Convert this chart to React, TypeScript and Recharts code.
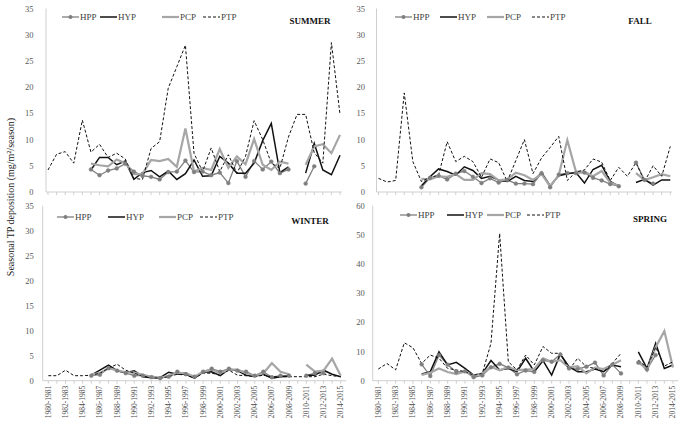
import React from 'react';
import { LineChart, Line, XAxis, YAxis } from 'recharts';

const N = null;

const categories = [
  '1980-1981', '1981-1982', '1982-1983', '1983-1984', '1984-1985', '1985-1986', '1986-1987',
  '1987-1988', '1988-1989', '1989-1990', '1990-1991', '1991-1992', '1992-1993', '1993-1994',
  '1994-1995', '1995-1996', '1996-1997', '1997-1998', '1998-1999', '1999-2000', '2000-2001',
  '2001-2002', '2002-2003', '2003-2004', '2004-2005', '2005-2006', '2006-2007', '2007-2008',
  '2008-2009', '2009-2010', '2010-2011', '2011-2012', '2012-2013', '2013-2014', '2014-2015',
];

// SUMMER
const summerHPP = [N, N, N, N, N, 4.3, 3.2, 4.1, 4.5, 5.4, 3.9, 3.1, 2.9, 2.4, 3.8, 3.9, 6.0, 3.8, 3.9, 3.2, 3.7, 1.7, 5.9, 2.9, 5.9, 4.3, 5.8, 3.6, 4.3, N, 1.6, 4.9, N, N, N];
const summerHYP = [N, N, N, N, N, 4.2, 6.6, 6.6, 5.2, 5.9, 2.4, 3.7, 4.1, 2.9, 4.0, 2.4, 3.5, 6.1, 3.0, 3.1, 6.8, 5.5, 3.6, 3.6, 5.5, 9.8, 13.1, 3.7, 4.8, N, 3.6, 9.3, 4.2, 3.3, 7.0];
const summerPCP = [N, N, N, N, N, 5.4, 5.1, 4.9, 6.2, 5.5, 3.4, 3.4, 6.1, 5.9, 6.3, 4.8, 12.1, 3.9, 4.6, 4.2, 8.2, 4.6, 6.8, 5.3, 10.1, 5.2, 4.2, 5.8, 5.4, N, 5.2, 8.7, 9.1, 7.4, 10.9];
const summerPTP = [4.2, 7.2, 7.7, 5.5, 13.7, 7.6, 9.1, 6.6, 7.4, 6.3, 2.6, 2.4, 8.3, 9.6, 19.8, 23.9, 28.0, 7.4, 3.9, 8.4, 3.9, 7.1, 3.6, 6.8, 13.6, 10.0, 5.5, 4.5, 10.5, 14.8, 14.8, 7.5, 5.5, 28.5, 14.8];

// FALL
const fallHPP = [N, N, N, N, N, 0.9, 2.7, 3.1, 2.4, 3.5, 4.0, 2.9, 1.7, 2.6, 1.8, 2.3, 1.6, 1.6, 1.5, 3.6, 0.9, 3.3, 3.6, 3.6, 3.7, 2.7, 2.2, 1.5, 1.1, N, 5.6, 2.3, 1.6, N, N];
const fallHYP = [N, N, N, N, N, 1.2, 2.9, 4.4, 3.9, 3.2, 4.8, 4.1, 2.6, 3.0, 2.3, 2.0, 3.0, 2.2, 2.0, 3.7, 1.2, 3.1, 3.5, 3.7, 1.7, 4.3, 5.1, 2.0, 1.1, N, 1.8, 2.4, 1.3, 2.3, 2.3];
const fallPCP = [N, N, N, N, N, 2.5, 2.4, 3.0, 2.9, 3.4, 2.3, 2.3, 3.6, 3.4, 2.2, 2.4, 3.7, 3.2, 2.3, 3.4, 1.1, 3.2, 9.9, 3.9, 3.9, 3.0, 4.0, 1.8, 1.2, N, 3.6, 2.3, 2.8, 3.4, 3.0];
const fallPTP = [2.6, 1.9, 2.2, 18.9, 5.8, 2.0, 2.8, 3.2, 9.6, 5.8, 6.8, 5.8, 2.8, 6.3, 5.6, 2.0, 6.0, 10.0, 3.5, 6.5, 8.5, 10.6, 2.2, 3.8, 4.2, 6.3, 5.7, 2.2, 4.7, 3.0, 5.6, 2.0, 5.0, 3.0, 8.7];

// WINTER
const winterHPP = [N, N, N, N, N, 1.0, 1.2, 2.5, 2.0, 1.5, 1.0, 1.0, 0.7, 0.5, 0.8, 1.8, 1.3, 0.8, 1.8, 2.4, 1.8, 2.4, 2.0, 1.8, 1.0, 1.8, 0.7, 1.0, 1.0, N, 1.0, 1.5, 1.5, N, N];
const winterHYP = [N, N, N, N, N, 1.1, 2.1, 3.1, 2.0, 1.6, 2.0, 0.8, 0.6, 0.6, 1.7, 1.3, 1.3, 0.5, 1.7, 1.8, 1.0, 2.3, 2.0, 1.1, 0.9, 1.3, 0.5, 0.8, 0.9, N, 1.1, 1.1, 2.1, 1.3, 0.8];
const winterPCP = [N, N, N, N, N, 1.2, 1.5, 2.5, 2.1, 1.7, 1.6, 1.2, 0.8, 0.6, 1.0, 1.5, 1.5, 0.8, 1.8, 2.2, 1.5, 2.2, 2.2, 1.5, 1.0, 1.5, 3.5, 1.8, 1.3, N, 3.2, 1.8, 2.0, 4.4, 1.0];
const winterPTP = [1.0, 1.0, 2.1, 1.0, 1.0, 1.1, 1.5, 2.5, 3.3, 2.1, 1.5, 0.9, 0.6, 0.5, 0.8, 1.3, 1.1, 0.5, 1.5, 1.5, 1.1, 2.1, 1.1, 1.0, 0.8, 1.1, 0.8, 0.8, 0.8, 0.8, 0.8, 0.8, 1.3, 1.0, 0.8];

// SPRING
const springHPP = [N, N, N, N, N, 5.6, 1.6, 8.8, 5.5, 3.0, 3.2, 1.2, 1.8, 4.6, 5.8, 4.5, 2.2, 3.5, 3.0, 7.0, 6.5, 9.0, 4.2, 4.0, 4.8, 6.2, 1.8, 5.5, 2.5, N, 6.2, 3.9, 8.8, N, N];
const springHYP = [N, N, N, N, N, 2.3, 3.1, 9.9, 5.4, 6.3, 4.2, 1.9, 2.5, 6.9, 3.7, 4.2, 3.1, 7.7, 3.1, 6.9, 1.9, 9.1, 4.8, 3.1, 3.1, 4.0, 3.1, 5.4, 4.8, N, 9.9, 4.2, 12.8, 4.2, 5.4];
const springPCP = [N, N, N, N, N, 2.0, 2.7, 4.2, 3.0, 2.3, 3.2, 1.8, 2.5, 4.8, 3.6, 4.7, 3.6, 3.8, 4.0, 7.7, 6.5, 7.0, 4.5, 5.0, 2.5, 4.5, 4.0, 5.5, 7.0, N, 7.0, 3.5, 11.5, 17.0, 4.5];
const springPTP = [4.0, 5.9, 3.7, 13.0, 11.3, 5.9, 8.8, 7.7, 4.2, 3.7, 3.1, 1.9, 2.5, 12.8, 50.5, 6.5, 3.7, 8.8, 5.4, 11.7, 9.4, 9.4, 3.7, 7.7, 4.8, 4.2, 3.1, 5.9, 9.4, N, 7.0, 4.5, 11.5, 5.0, 6.5];

const seasonTitles = ['SUMMER', 'FALL', 'WINTER', 'SPRING'];
const seriesNames = ['HPP', 'HYP', 'PCP', 'PTP'];
const yTicks35 = [0, 5, 10, 15, 20, 25, 30, 35];
const yTicks60 = [0, 10, 20, 30, 40, 50, 60];

const FONT = '"Liberation Serif", "Times New Roman", Times, serif';
const AXIS = '#cfcfcf';
const TICK = '#595959';

const seriesStyle: Record<string, any> = {
  HPP: { color: '#7f7f7f', width: 1.3, dash: undefined, dot: true },
  HYP: { color: '#111111', width: 1.5, dash: undefined, dot: false },
  PCP: { color: '#a6a6a6', width: 2.2, dash: undefined, dot: false },
  PTP: { color: '#111111', width: 1, dash: '3 2', dot: false },
};

function buildRows(hpp: any[], hyp: any[], pcp: any[], ptp: any[]) {
  return categories.map((c, i) => ({ cat: c, HPP: hpp[i], HYP: hyp[i], PCP: pcp[i], PTP: ptp[i] }));
}

const EmptyTick = () => <g />;

const YearTick = (props: any) => {
  const { x, y, payload } = props;
  const idx = categories.indexOf(payload.value);
  if (idx % 2 !== 0) return <g />;
  return (
    <g transform={`translate(${x},${y})`}>
      <text transform="rotate(-90)" textAnchor="end" dy="0.33em" fontSize={7.5} fill="#4d4d4d" fontFamily={FONT}>
        {payload.value}
      </text>
    </g>
  );
};

function LegendOverlay({ xs, y, title, titleX }: { xs: number[]; y: number; title: string; titleX: number }) {
  return (
    <>
      {seriesNames.map((name, i) => {
        const s = seriesStyle[name];
        return (
          <div key={name} style={{ position: 'absolute', left: xs[i], top: y - 6, height: 12, display: 'flex', alignItems: 'center', whiteSpace: 'nowrap' }}>
            <svg width={17} height={12} style={{ display: 'block' }}>
              <line x1={0} x2={17} y1={6} y2={6} stroke={s.color} strokeWidth={s.width} strokeDasharray={s.dash} />
              {s.dot ? <circle cx={8.5} cy={6} r={2} fill={s.color} /> : null}
            </svg>
            <span style={{ fontFamily: FONT, fontSize: 9, color: '#404040', marginLeft: 1, lineHeight: '12px' }}>{name}</span>
          </div>
        );
      })}
      <div style={{ position: 'absolute', left: titleX - 40, width: 80, top: y - 2, textAlign: 'center', fontFamily: FONT, fontSize: 9, fontWeight: 'bold', color: '#111', lineHeight: '12px' }}>
        {title}
      </div>
    </>
  );
}

function Panel(p: any) {
  const rows = buildRows(p.hpp, p.hyp, p.pcp, p.ptp);
  return (
    <div style={{ position: 'absolute', left: p.left, top: p.top, width: p.width, height: p.height }}>
      <LineChart width={p.width} height={p.height} data={rows} margin={p.margin}>
        <XAxis
          dataKey="cat"
          interval={0}
          tick={p.labels ? <YearTick /> : <EmptyTick />}
          tickSize={3}
          tickMargin={2}
          height={p.xHeight}
          padding={{ left: p.pad, right: p.pad }}
          axisLine={{ stroke: AXIS }}
          tickLine={{ stroke: AXIS }}
        />
        <XAxis xAxisId="top" orientation="top" dataKey="cat" height={0} tick={false} tickLine={false} axisLine={{ stroke: AXIS }} />
        <YAxis
          domain={[0, p.yMax]}
          ticks={p.yTicks}
          interval={0}
          width={p.yWidth}
          tickLine={false}
          axisLine={{ stroke: AXIS }}
          tickMargin={p.tickMargin}
          tick={{ fontSize: 8.5, fill: TICK, fontFamily: FONT }}
        />
        <YAxis yAxisId="right" orientation="right" width={0} tick={false} tickLine={false} axisLine={{ stroke: AXIS }} />
        {seriesNames.map((name) => {
          const s = seriesStyle[name];
          return (
            <Line
              key={name}
              type="linear"
              dataKey={name}
              stroke={s.color}
              strokeWidth={s.width}
              strokeDasharray={s.dash}
              dot={s.dot ? { r: 1.9, fill: s.color, stroke: s.color, strokeWidth: 0.5 } : false}
              activeDot={false}
              isAnimationActive={false}
            />
          );
        })}
      </LineChart>
    </div>
  );
}

export default function App() {
  return (
    <div style={{ position: 'absolute', left: 0, top: 0, width: 685, height: 433, background: '#fff', overflow: 'hidden' }}>
      <Panel
        left={0} top={0} width={345} height={200}
        margin={{ top: 8.5, right: 3, bottom: 0, left: 0 }}
        yWidth={46} xHeight={8} pad={2} tickMargin={6.5} labels={false}
        yMax={35} yTicks={yTicks35}
        hpp={summerHPP} hyp={summerHYP} pcp={summerPCP} ptp={summerPTP}
      />
      <Panel
        left={330} top={0} width={355} height={200}
        margin={{ top: 8.5, right: 12.7, bottom: 0, left: 0 }}
        yWidth={46.5} xHeight={8} pad={2} tickMargin={5.5} labels={false}
        yMax={35} yTicks={yTicks35}
        hpp={fallHPP} hyp={fallHYP} pcp={fallPCP} ptp={fallPTP}
      />
      <Panel
        left={0} top={195} width={349} height={238}
        margin={{ top: 10.7, right: 2.7, bottom: 0, left: 0 }}
        yWidth={42.7} xHeight={52.3} pad={5.6} tickMargin={3} labels={true}
        yMax={35} yTicks={yTicks35}
        hpp={winterHPP} hyp={winterHYP} pcp={winterPCP} ptp={winterPTP}
      />
      <Panel
        left={330} top={195} width={355} height={238}
        margin={{ top: 10.7, right: 6.4, bottom: 0, left: 0 }}
        yWidth={42.7} xHeight={52.3} pad={5.6} tickMargin={2} labels={true}
        yMax={60} yTicks={yTicks60}
        hpp={springHPP} hyp={springHYP} pcp={springPCP} ptp={springPTP}
      />
      <LegendOverlay xs={[62, 100, 162, 203]} y={17} title={seasonTitles[0]} titleX={310} />
      <LegendOverlay xs={[395, 440, 487, 532]} y={17} title={seasonTitles[1]} titleX={640} />
      <LegendOverlay xs={[57, 108, 159, 200]} y={217} title={seasonTitles[2]} titleX={310} />
      <LegendOverlay xs={[400, 447, 487, 527]} y={215} title={seasonTitles[3]} titleX={650} />
      <svg width={20} height={433} style={{ position: 'absolute', left: 0, top: 0 }}>
        <text
          transform="translate(10,197) rotate(-90)"
          textAnchor="middle"
          dy="0.35em"
          fontFamily={FONT}
          fontSize={10}
          fill="#222"
        >
          Seasonal TP deposition (mg/m²/season)
        </text>
      </svg>
    </div>
  );
}
